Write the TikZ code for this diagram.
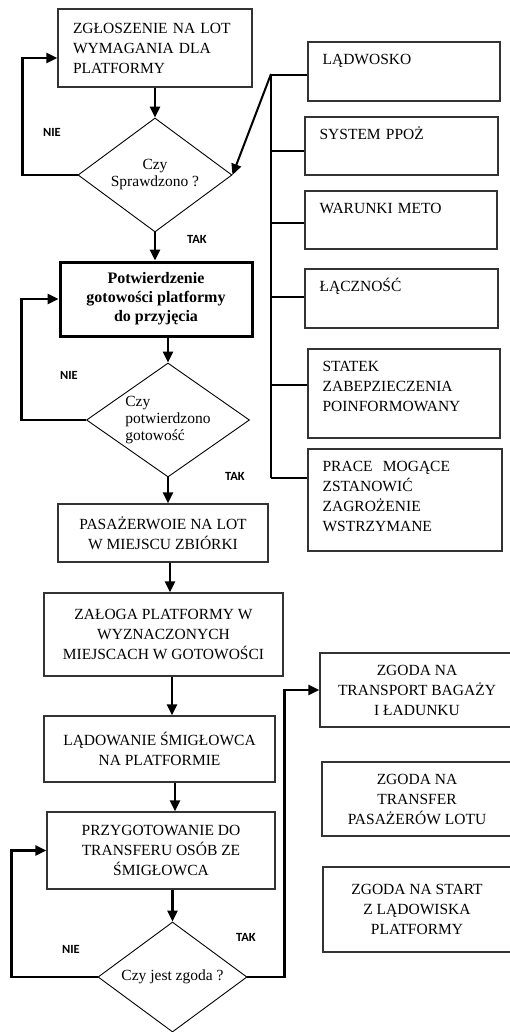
\documentclass[tikz,border=0pt]{standalone}
\usepackage{fontspec}
\setmainfont{Liberation Serif}
\newfontfamily\lblfont{Carlito}
\usetikzlibrary{calc}
\usetikzlibrary{arrows.meta}
\usetikzlibrary{shapes.geometric}

\begin{document}
\begin{tikzpicture}[
    x=1pt, y=-1pt,
    capsfont/.style={font=\fontsize{15.5}{20}\selectfont},
    box/.style={draw=black!80, line width=1.2pt, align=center, inner sep=0pt, capsfont},
    decision/.style={diamond, draw=black, line width=0.9pt, inner sep=0pt,
        shape aspect=1.4, font=\fontsize{15.5}{17}\selectfont},
    sidebox/.style={draw=black!80, line width=1.2pt, inner sep=0pt},
    sidetext/.style={anchor=base west, inner sep=0pt, text width=180pt, align=left, capsfont},
    flow/.style={line width=2.6pt, -{Triangle[length=11pt,width=10pt]}},
    back/.style={flow},
    branch/.style={line width=1.3pt},
    answer/.style={font={\lblfont\bfseries\fontsize{12.5}{14}\selectfont}}
]
\useasboundingbox (0,0) rectangle (509,1032);

% Main column
\node[box, minimum width=194, minimum height=78, align=left, text width=164] (zgl) at (155,48)
    {ZGŁOSZENIE NA LOT\\WYMAGANIA DLA\\PLATFORMY};
\node[decision, minimum width=154, minimum height=114, align=center] (spr) at (155,175)
    {Czy\\Sprawdzono ?};
\node[box, draw=black, line width=3pt, minimum width=192, minimum height=74,
    font=\bfseries\fontsize{16}{19}\selectfont] (pot) at (156,299)
    {Potwierdzenie\\gotowości platformy\\do przyjęcia};
\node[decision, minimum width=163, minimum height=114, align=left] (gp) at (168,420)
    {Czy\\potwierdzono\\gotowość};
\node[box, minimum width=210, minimum height=58] (pas) at (163,533)
    {PASAŻERWOIE NA LOT\\W MIEJSCU ZBIÓRKI};
\node[box, minimum width=239, minimum height=83] (zal) at (163.5,634.5)
    {ZAŁOGA PLATFORMY W\\WYZNACZONYCH\\MIEJSCACH W GOTOWOŚCI};
\node[box, minimum width=231, minimum height=66] (lad) at (159.5,749)
    {LĄDOWANIE ŚMIGŁOWCA\\NA PLATFORMIE};
\node[box, minimum width=228, minimum height=77] (prz) at (161,850.5)
    {PRZYGOTOWANIE DO\\TRANSFERU OSÓB ZE\\ŚMIGŁOWCA};
\node[decision, minimum width=149, minimum height=110] (zg) at (172.5,977)
    {Czy jest zgoda ?};

% Checklist boxes
\node[sidebox, minimum width=192, minimum height=59] (ladw) at (404,71.5) {};
\node[sidebox, minimum width=193, minimum height=58] (sys) at (401.5,146) {};
\node[sidebox, minimum width=192, minimum height=58] (war) at (401,220) {};
\node[sidebox, minimum width=193, minimum height=59] (lacz) at (401.5,298.5) {};
\node[sidebox, minimum width=192, minimum height=89] (stat) at (404,393.5) {};
\node[sidebox, minimum width=194, minimum height=102] (prace) at (405,500) {};

\foreach \n/\t in {ladw/LĄDWOSKO, sys/SYSTEM PPOŻ, war/WARUNKI METO, lacz/ŁĄCZNOŚĆ,
    stat/{STATEK\\ZABEPZIECZENIA\\POINFORMOWANY},
    prace/{PRACE\ \ MOGĄCE\\ZSTANOWIĆ\\ZAGROŻENIE\\WSTRZYMANE}}
    \node[sidetext] (t-\n) at ($(\n.north west)+(15,23)$) {\t};

% Consent boxes
\node[box, minimum width=194, minimum height=74] (z1) at (417,690)
    {ZGODA NA\\TRANSPORT BAGAŻY\\I ŁADUNKU};
\node[box, minimum width=190, minimum height=74] (z2) at (417,799)
    {ZGODA NA\\TRANSFER\\PASAŻERÓW LOTU};
\node[box, minimum width=188, minimum height=85] (z3) at (417,909.5)
    {ZGODA NA START\\Z LĄDOWISKA\\PLATFORMY};

% Bus to checklist
\coordinate (bustop) at (271,74);
\coordinate (busend) at (271,478);
\draw[line width=2.2pt] (bustop) -- (busend);
\foreach \n/\y in {ladw/75, sys/151, war/223, lacz/297, stat/385, prace/478} {
    \coordinate (b-\n) at (271,\y);
    \draw[branch] (b-\n) -- (b-\n -| \n.west);
}
\draw[flow, line width=2pt] (bustop) -- (spr.east);

% Flow arrows
\draw[flow] (zgl.south) -- (spr.north);
\draw[flow] (spr.south) -- (spr.south |- pot.north);
\draw[flow] (pot.south -| gp.north) -- (gp.north);
\draw[flow] (gp.south) -- (gp.south |- pas.north);
\draw[flow] ([xshift=7pt]pas.south) -- ([xshift=7pt]pas.south |- zal.north);
\draw[flow] ([xshift=8.5pt]zal.south) -- ([xshift=8.5pt]zal.south |- lad.north);
\draw[flow] ([xshift=15.5pt]lad.south) -- ([xshift=15.5pt]lad.south |- prz.north);
\draw[flow] (prz.south -| zg.north) -- (zg.north);

% Return loops
\draw[back] (spr.west) -| ([xshift=-35pt, yshift=-10pt]zgl.west) -- ([yshift=-10pt]zgl.west);
\draw[back] (gp.west) -| ([xshift=-37pt]pot.west) -- (pot.west);
\draw[back] (zg.west) -| ([xshift=-35pt]prz.west) -- (prz.west);
\draw[back] (zg.east) -| ([xshift=-35pt]z1.west) -- (z1.west);

% Answers
\node[answer] (nie1) at (52,132) {NIE};
\node[answer] (tak1) at (197,239) {TAK};
\node[answer] (nie2) at (69,375) {NIE};
\node[answer] (tak2) at (235,476) {TAK};
\node[answer] (nie3) at (71,949) {NIE};
\node[answer] (tak3) at (246,937) {TAK};
\end{tikzpicture}
\end{document}
